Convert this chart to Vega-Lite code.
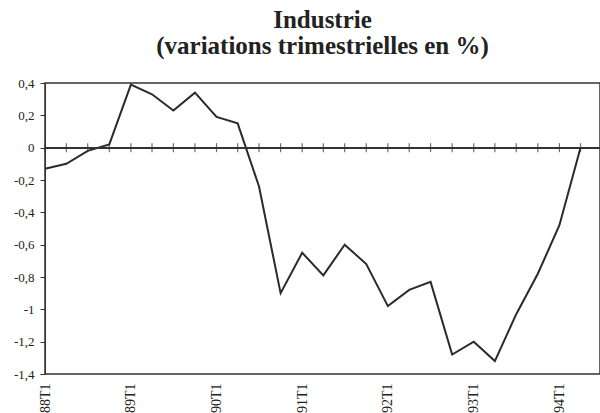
{
  "$schema": "https://vega.github.io/schema/vega-lite/v6.json",
  "autosize": "none",
  "width": 555,
  "height": 291,
  "padding": {"left": 45, "top": 83, "right": 0, "bottom": 39},
  "background": "white",
  "title": {
    "text": ["Industrie", "(variations trimestrielles en %)"],
    "font": "Liberation Serif",
    "fontSize": 25,
    "fontWeight": "bold",
    "lineHeight": 26,
    "baseline": "bottom",
    "offset": 15,
    "dy": 22,
    "anchor": "middle",
    "color": "#222"
  },
  "config": {
    "view": {"stroke": "#333", "strokeWidth": 1.5},
    "axis": {"labelOverlap": false, "labelFlush": false}
  },
  "resolve": {"axis": {"x": "independent", "y": "independent"}},
  "data": {
    "values": [
      {"date": "1988-01-01", "value": -0.13},
      {"date": "1988-04-01", "value": -0.10},
      {"date": "1988-07-01", "value": -0.02},
      {"date": "1988-10-01", "value": 0.02},
      {"date": "1989-01-01", "value": 0.39},
      {"date": "1989-04-01", "value": 0.33},
      {"date": "1989-07-01", "value": 0.23},
      {"date": "1989-10-01", "value": 0.34},
      {"date": "1990-01-01", "value": 0.19},
      {"date": "1990-04-01", "value": 0.15},
      {"date": "1990-07-01", "value": -0.24},
      {"date": "1990-10-01", "value": -0.90},
      {"date": "1991-01-01", "value": -0.65},
      {"date": "1991-04-01", "value": -0.79},
      {"date": "1991-07-01", "value": -0.60},
      {"date": "1991-10-01", "value": -0.72},
      {"date": "1992-01-01", "value": -0.98},
      {"date": "1992-04-01", "value": -0.88},
      {"date": "1992-07-01", "value": -0.83},
      {"date": "1992-10-01", "value": -1.28},
      {"date": "1993-01-01", "value": -1.20},
      {"date": "1993-04-01", "value": -1.32},
      {"date": "1993-07-01", "value": -1.03},
      {"date": "1993-10-01", "value": -0.78},
      {"date": "1994-01-01", "value": -0.48},
      {"date": "1994-04-01", "value": 0.0}
    ]
  },
  "layer": [
    {
      "mark": {"type": "line", "color": "#2a2a2a", "strokeWidth": 2},
      "encoding": {
        "x": {
          "field": "date", "type": "temporal",
          "scale": {"type": "utc", "domain": ["1988-01-01", "1994-06-23"]},
          "axis": {
            "title": null,
            "values": [
              {"year": 1988, "utc": true}, {"year": 1989, "utc": true}, {"year": 1990, "utc": true},
              {"year": 1991, "utc": true}, {"year": 1992, "utc": true}, {"year": 1993, "utc": true},
              {"year": 1994, "utc": true}
            ],
            "labelExpr": "utcFormat(datum.value, '%y') + 'T1'",
            "labelAngle": 270,
            "labelPadding": 9,
            "ticks": false,
            "domain": false,
            "grid": false,
            "labelFont": "Liberation Serif",
            "labelFontSize": 14,
            "labelColor": "#222",
            "labelOverlap": false
          }
        },
        "y": {
          "field": "value", "type": "quantitative",
          "scale": {"domain": [-1.4, 0.4], "nice": false, "zero": false},
          "axis": {
            "title": null,
            "values": [0.4, 0.2, 0, -0.2, -0.4, -0.6, -0.8, -1, -1.2, -1.4],
            "labelExpr": "replace(toString(datum.value), '.', ',')",
            "tickSize": 5,
            "tickColor": "#333",
            "domainColor": "#333",
            "labelPadding": 6,
            "grid": false,
            "labelFont": "Liberation Serif",
            "labelFontSize": 13,
            "labelColor": "#222",
            "labelOverlap": false
          }
        }
      }
    },
    {
      "mark": {"type": "rule", "color": "#333", "strokeWidth": 1.5},
      "encoding": {
        "y": {"datum": 0, "type": "quantitative", "scale": {"domain": [-1.4, 0.4], "nice": false, "zero": false}, "axis": null}
      }
    },
    {
      "mark": {"type": "tick", "orient": "vertical", "size": 9, "thickness": 1.2, "color": "#333"},
      "encoding": {
        "x": {"field": "date", "type": "temporal", "scale": {"type": "utc", "domain": ["1988-01-01", "1994-06-23"]}, "axis": null},
        "y": {"datum": 0, "type": "quantitative", "scale": {"domain": [-1.4, 0.4], "nice": false, "zero": false}, "axis": null}
      }
    }
  ]
}
